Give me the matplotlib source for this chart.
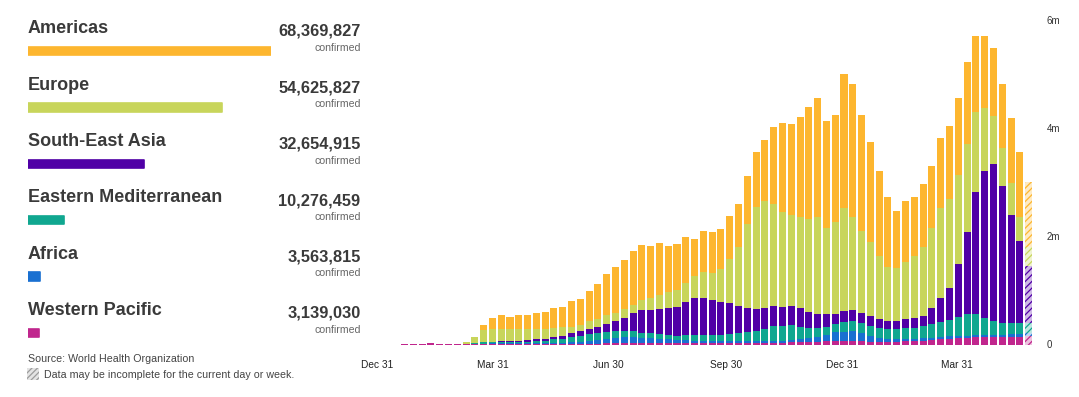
import numpy as np
import matplotlib
matplotlib.use("Agg")
import matplotlib.pyplot as plt
from matplotlib.patches import Rectangle
from matplotlib.colors import to_rgb

plt.rcParams['font.family'] = ['Liberation Sans', 'DejaVu Sans']
plt.rcParams['hatch.linewidth'] = 0.9

# ---------------- data ----------------
regions = ["Americas", "Europe", "South-East Asia", "Eastern Mediterranean",
           "Africa", "Western Pacific"]
totals = [68369827, 54625827, 32654915, 10276459, 3563815, 3139030]
colors = ["#FDB62F", "#C8D55B", "#5000A6", "#10A790", "#1970D1", "#C0268D"]

x_tick_labels = ["Dec 31", "Mar 31", "Jun 30", "Sep 30", "Dec 31", "Mar 31"]
y_tick_values = [0, 2, 4, 6]
y_tick_labels = ["0", "2m", "4m", "6m"]

# weekly new confirmed cases (millions), weeks from 30 Dec 2019; last week incomplete
americas = [0, 0, 0, 0, 0, 0, 0, 0, 0, 0.001,
            0.003, 0.012, 0.093, 0.209, 0.259, 0.228, 0.265, 0.265, 0.296, 0.304,
            0.363, 0.383, 0.476, 0.481, 0.556, 0.648, 0.759, 0.839, 0.917, 1.006,
            1.019, 0.963, 0.969, 0.843, 0.852, 0.844, 0.693, 0.754, 0.759, 0.746,
            0.807, 0.802, 0.881, 1.006, 1.130, 1.431, 1.656, 1.685, 1.863, 2.085,
            2.193, 1.974, 1.976, 2.481, 2.463, 2.143, 1.852, 1.580, 1.307, 1.070,
            1.124, 1.098, 1.163, 1.154, 1.296, 1.352, 1.430, 1.524, 1.413, 1.339,
            1.248, 1.191, 1.215, 1.204, 1.193]
europe = [0, 0, 0, 0, 0, 0, 0, 0, 0, 0.004,
          0.025, 0.110, 0.217, 0.235, 0.228, 0.222, 0.211, 0.204, 0.196, 0.185,
          0.174, 0.159, 0.117, 0.117, 0.137, 0.135, 0.167, 0.157, 0.152, 0.154,
          0.198, 0.235, 0.259, 0.300, 0.309, 0.359, 0.400, 0.481, 0.506, 0.600,
          0.815, 1.087, 1.556, 1.902, 1.974, 1.894, 1.752, 1.691, 1.685, 1.711,
          1.807, 1.593, 1.691, 1.896, 1.722, 1.519, 1.370, 1.157, 0.985, 0.967,
          1.065, 1.148, 1.267, 1.481, 1.667, 1.643, 1.643, 1.624, 1.470, 1.156,
          0.900, 0.698, 0.587, 0.444, 0.357]
south_east_asia = [0, 0, 0, 0, 0, 0, 0, 0, 0, 0,
                   0, 0.002, 0.006, 0.008, 0.010, 0.013, 0.016, 0.020, 0.030, 0.035,
                   0.040, 0.050, 0.070, 0.085, 0.100, 0.115, 0.140, 0.176, 0.246, 0.337,
                   0.413, 0.431, 0.469, 0.506, 0.537, 0.617, 0.693, 0.691, 0.648, 0.617,
                   0.569, 0.506, 0.452, 0.400, 0.390, 0.365, 0.352, 0.361, 0.341, 0.296,
                   0.248, 0.248, 0.198, 0.204, 0.204, 0.196, 0.187, 0.181, 0.157, 0.157,
                   0.172, 0.181, 0.194, 0.294, 0.444, 0.598, 0.972, 1.530, 2.265, 2.722,
                   2.896, 2.543, 2.006, 1.530, 1.061]
eastern_med = [0, 0, 0, 0, 0, 0, 0, 0, 0, 0.002,
               0.006, 0.012, 0.025, 0.027, 0.030, 0.032, 0.034, 0.036, 0.042, 0.047,
               0.063, 0.074, 0.090, 0.110, 0.125, 0.135, 0.140, 0.130, 0.110, 0.102,
               0.090, 0.090, 0.081, 0.078, 0.080, 0.093, 0.098, 0.111, 0.111, 0.111,
               0.124, 0.137, 0.154, 0.185, 0.222, 0.272, 0.278, 0.276, 0.233, 0.196,
               0.167, 0.150, 0.150, 0.185, 0.191, 0.185, 0.189, 0.174, 0.185, 0.194,
               0.200, 0.207, 0.224, 0.250, 0.267, 0.296, 0.357, 0.396, 0.389, 0.320,
               0.265, 0.217, 0.204, 0.198, 0.185]
africa = [0, 0, 0, 0, 0, 0, 0, 0, 0, 0,
          0.001, 0.002, 0.006, 0.008, 0.009, 0.010, 0.011, 0.013, 0.016, 0.020,
          0.025, 0.030, 0.038, 0.043, 0.052, 0.063, 0.080, 0.098, 0.108, 0.106,
          0.093, 0.081, 0.076, 0.066, 0.055, 0.045, 0.040, 0.035, 0.033, 0.033,
          0.035, 0.037, 0.035, 0.030, 0.030, 0.032, 0.035, 0.038, 0.050, 0.063,
          0.093, 0.117, 0.161, 0.167, 0.180, 0.143, 0.106, 0.080, 0.061, 0.041,
          0.041, 0.037, 0.050, 0.043, 0.048, 0.050, 0.043, 0.037, 0.031, 0.031,
          0.037, 0.031, 0.044, 0.050, 0.050]
western_pacific = [0, 0, 0, 0.002, 0.012, 0.018, 0.028, 0.012, 0.006, 0.006,
                   0.006, 0.008, 0.012, 0.012, 0.012, 0.010, 0.008, 0.006, 0.005, 0.005,
                   0.006, 0.007, 0.010, 0.012, 0.014, 0.016, 0.020, 0.028, 0.033, 0.035,
                   0.035, 0.033, 0.030, 0.030, 0.030, 0.030, 0.030, 0.030, 0.030, 0.032,
                   0.033, 0.035, 0.035, 0.035, 0.035, 0.035, 0.035, 0.040, 0.046, 0.052,
                   0.052, 0.056, 0.065, 0.070, 0.070, 0.065, 0.052, 0.046, 0.041, 0.052,
                   0.056, 0.065, 0.065, 0.083, 0.096, 0.107, 0.115, 0.126, 0.144, 0.144,
                   0.139, 0.144, 0.144, 0.144, 0.157]

# ---------------- figure ----------------
W, H = 1079, 397
fig = plt.figure(figsize=(W / 100, H / 100), dpi=100)

# overlay axes in pixel coordinates for the text panel
ax0 = fig.add_axes([0, 0, 1, 1])
ax0.set_xlim(0, W)
ax0.set_ylim(H, 0)
ax0.axis("off")

row0, row_step = 33.3, 56.4
for k, (name, tot) in enumerate(zip(regions, totals)):
    yb = row0 + k * row_step
    ax0.text(27.5, yb, name, fontsize=13, fontweight="bold", color="#3a3a3a",
             va="baseline", ha="left")
    ax0.text(360.5, yb + 2.7, f"{tot:,}", fontsize=11.8, fontweight="bold",
             color="#3a3a3a", va="baseline", ha="right")
    ax0.text(360.5, yb + 17.4, "confirmed", fontsize=7.6, color="#666666",
             va="baseline", ha="right")

ax0.text(27.7, 362.5, "Source: World Health Organization", fontsize=7.7,
         color="#444444", va="baseline", ha="left")
ax0.add_patch(Rectangle((27.3, 368.3), 12, 11.7, facecolor="#e4e4e4",
                        edgecolor="#9c9c9c", hatch="//////", linewidth=0))
ax0.text(44.3, 378.4, "Data may be incomplete for the current day or week.",
         fontsize=7.7, color="#444444", va="baseline", ha="left")

# horizontal total bars (pixel y, value x)
axl = fig.add_axes([27.5 / W, 0, 243.5 / W, 1])
axl.set_xlim(0, max(totals))
axl.set_ylim(H, 0)
axl.axis("off")
bar_y = [51.2 + k * 56.3 for k in range(len(totals))]
axl.barh(bar_y, totals, height=8.3, color=colors, edgecolor=colors,
         linewidth=1.2, joinstyle="round")

# stacked weekly bars
ax = fig.add_axes([360 / W, 1 - 344.5 / H, 680 / W, (344.5 - 15.1) / H])
stack = [western_pacific, africa, eastern_med, south_east_asia, europe, americas]
stack_colors = [colors[5], colors[4], colors[3], colors[2], colors[1], colors[0]]
x = np.arange(len(americas))
bottom = np.zeros(len(x))
for series, col in zip(stack, stack_colors):
    vals = np.array(series)
    bars = ax.bar(x, vals, bottom=bottom, width=0.8, color=col, linewidth=0)
    last = bars[-1]
    rgb = np.array(to_rgb(col))
    last.set_facecolor(tuple(0.72 + 0.28 * rgb))
    last.set_edgecolor(col)
    last.set_hatch("/////")
    bottom += vals

ax.set_xlim(-2.064, 75.297)
ax.set_ylim(0, 6.1)
for s in ax.spines.values():
    s.set_visible(False)
ax.set_xticks([-0.13, 13.01, 26.2, 39.55, 52.83, 65.85])
ax.set_xticklabels(x_tick_labels)
ax.tick_params(axis="x", length=0, pad=11.5, labelsize=7.3, labelcolor="#222222")
ax.yaxis.tick_right()
ax.set_yticks(y_tick_values)
ax.set_yticklabels(y_tick_labels)
ax.tick_params(axis="y", length=0, pad=5, labelsize=7, labelcolor="#333333")
ax.set_facecolor("none")

fig.savefig("out.png", dpi=100, facecolor="white")
